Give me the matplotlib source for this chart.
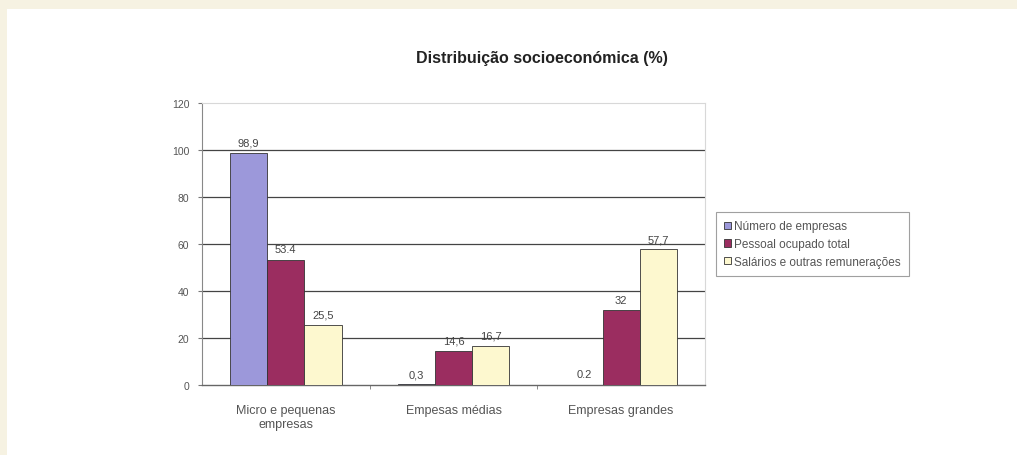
import matplotlib
matplotlib.use("Agg")
import matplotlib.pyplot as plt
from matplotlib.patches import Rectangle
import numpy as np

categories = ["Micro e pequenas\nempresas", "Empesas médias", "Empresas grandes"]
series_names = ["Número de empresas", "Pessoal ocupado total", "Salários e outras remunerações"]
numero_empresas = [98.9, 0.3, 0.2]
pessoal_ocupado = [53.4, 14.6, 32]
salarios = [25.5, 16.7, 57.7]
label_numero = ["98,9", "0,3", "0.2"]
label_pessoal = ["53.4", "14,6", "32"]
label_salarios = ["25,5", "16,7", "57,7"]
yticks = [0, 20, 40, 60, 80, 100, 120]

colors = ["#9c98da", "#9b2d60", "#fdf8cf"]

plt.rcParams['font.family'] = ['Liberation Sans', 'DejaVu Sans']

fig = plt.figure(figsize=(10.17, 4.56), dpi=100)
fig.patch.set_facecolor("#f6f2e2")
fig.patches.append(Rectangle((7/1017, 0), 1, (456-10)/456, transform=fig.transFigure,
                             facecolor="white", edgecolor="none", zorder=-5))

ax = fig.add_axes([202/1017, 70/456, (705-202)/1017, (386-104)/456])
ax.set_facecolor("white")

x = np.arange(len(categories))
w = 1/4.5
series = [numero_empresas, pessoal_ocupado, salarios]
labels = [label_numero, label_pessoal, label_salarios]
for i, (vals, labs) in enumerate(zip(series, labels)):
    pos = x + (i - 1) * w
    ax.bar(pos, vals, width=w, color=colors[i], edgecolor="#333333", linewidth=0.6,
           label=series_names[i], zorder=3)
    for p, v, t in zip(pos, vals, labs):
        ax.text(p, v + 2.2, t, ha="center", va="bottom", fontsize=8, color="#444444")

ax.set_xlim(-0.5, 2.5)
ax.set_ylim(0, 120)
ax.set_yticks(yticks)
ax.set_yticklabels([str(t) for t in yticks], fontsize=7.5, color="#555555")
for t in yticks[1:-1]:
    ax.axhline(t, color="#444444", linewidth=0.9, zorder=1)

ax.set_xticks(x)
ax.set_xticklabels(categories, fontsize=9, color="#555555", linespacing=1.2)
ax.tick_params(axis="x", length=0, pad=14)
ax.set_xticks([0.5, 1.5], minor=True)
ax.tick_params(axis="x", which="minor", length=3, color="#777777", direction="out")
ax.tick_params(axis="y", length=3, color="#777777", pad=6)

for s in ["top", "right"]:
    ax.spines[s].set_color("#d8d8d8")
    ax.spines[s].set_linewidth(0.8)
ax.spines["left"].set_color("#888888")
ax.spines["bottom"].set_color("#666666")
ax.spines["left"].set_linewidth(0.8)
ax.spines["bottom"].set_linewidth(1.0)

fig.text(542/1017, 1 - 58/456, "Distribuição socioeconómica (%)", ha="center", va="center",
         fontsize=11.5, fontweight="bold", color="#222222")

leg = fig.legend(loc="upper left", bbox_to_anchor=(716/1017, 1 - 213/456), fontsize=8.5,
                 frameon=True, fancybox=False, handlelength=0.55, handleheight=0.55,
                 handletextpad=0.25, labelspacing=0.5, borderpad=0.7, borderaxespad=0,
                 labelcolor="#555555")
leg.get_frame().set_edgecolor("#888888")
leg.get_frame().set_linewidth(0.8)

fig.savefig("out.png", dpi=100, facecolor=fig.get_facecolor())
